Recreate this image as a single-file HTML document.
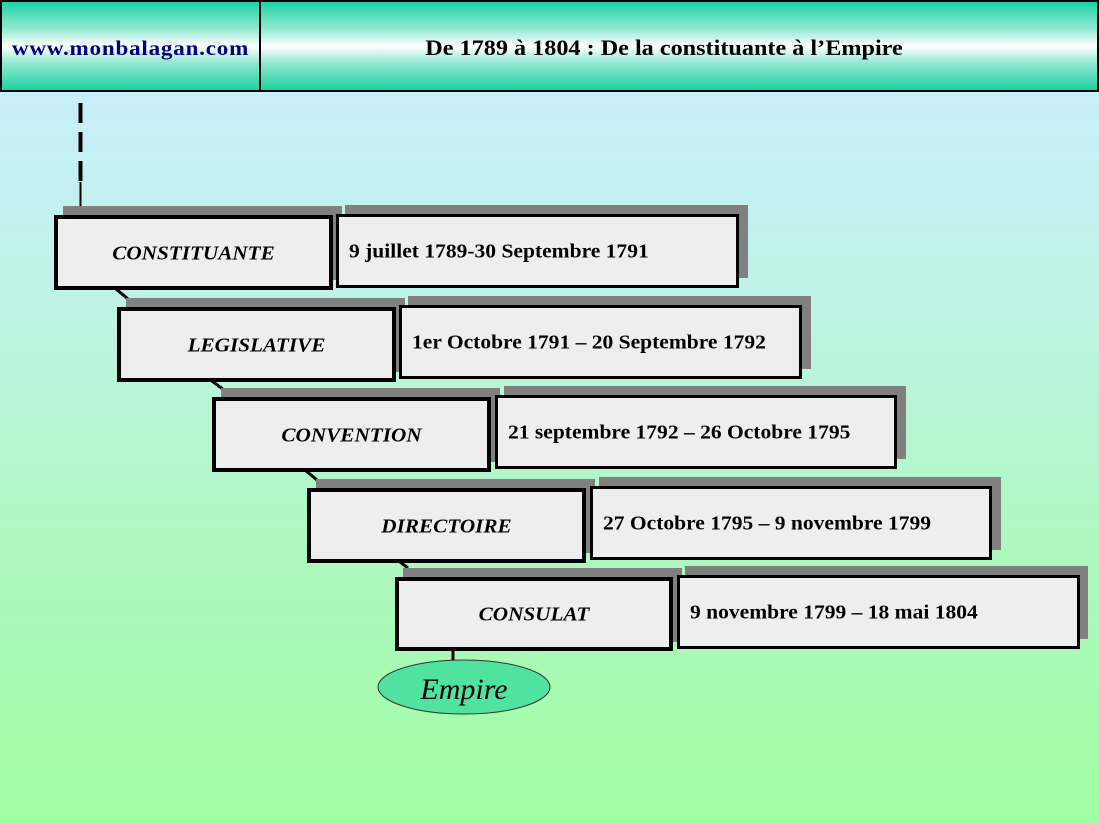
<!DOCTYPE html>
<html><head><meta charset="utf-8"><style>
*{margin:0;padding:0;box-sizing:border-box}
body{width:1099px;height:824px;overflow:hidden;position:relative;font-family:"Liberation Serif",serif;
background:linear-gradient(to bottom,#c8eefa 92px,#bff3e6 300px,#aef8c0 550px,#a0fea2 824px);}
.hd{position:absolute;top:0;height:92px;border:2px solid #000;
background:linear-gradient(to bottom,#1fd1a5 0%,#8ee8d0 30%,#ffffff 50%,#8ee8d0 70%,#1fd1a5 100%);}
.hd span{position:absolute;top:4px;bottom:0;display:flex;align-items:center;justify-content:center;font-weight:bold;}
.b{position:absolute;background:#eeeeee;border:4px solid #000;}
.s{position:absolute;background:#808080;}
.b i{position:absolute;left:0;right:0;top:50%;transform:translateY(-45%) scaleX(1.06);text-align:center;font-weight:bold;font-size:20px;}
.r{border-width:3px}
.r b{position:absolute;left:10px;top:50%;transform:translateY(-45%) scaleX(1.05);transform-origin:0 50%;font-size:20.5px;white-space:nowrap}
</style></head><body>
<div class="hd" style="left:0;width:261px"><span style="left:0;right:0;color:#000080;font-size:21px;letter-spacing:0.7px;transform:scaleX(1.1)">www.monbalagan.com</span></div>
<div class="hd" style="left:259px;width:840px"><span style="left:0;right:30px;color:#000;font-size:22px;transform:scaleX(1.1)">De 1789 à 1804 : De la constituante à l’Empire</span></div>
<svg style="position:absolute;left:0;top:0" width="1099" height="824">
<line x1="80.5" y1="103" x2="80.5" y2="182" stroke="#000" stroke-width="4" stroke-dasharray="20,9"/>
<line x1="80.5" y1="182" x2="80.5" y2="207" stroke="#000" stroke-width="2"/>
<line x1="116" y1="289" x2="128" y2="299" stroke="#000" stroke-width="3"/>
<line x1="212" y1="381" x2="224" y2="390" stroke="#000" stroke-width="3"/>
<line x1="305" y1="470" x2="317" y2="480" stroke="#000" stroke-width="3"/>
<line x1="400" y1="562" x2="408" y2="568" stroke="#000" stroke-width="3"/>
<line x1="453" y1="650" x2="453" y2="662" stroke="#000" stroke-width="3"/>
<ellipse cx="464" cy="687" rx="86" ry="27" fill="#50e3a0" stroke="#333" stroke-width="1"/>
<text x="464" y="699" text-anchor="middle" font-family="Liberation Serif" font-style="italic" font-size="30">Empire</text>
</svg>
<div class="s" style="left:63px;top:206px;width:279px;height:74px"></div>
<div class="b" style="left:54px;top:215px;width:279px;height:75px"><i>CONSTITUANTE</i></div>
<div class="s" style="left:345px;top:205px;width:403px;height:73px"></div>
<div class="b r" style="left:336px;top:214px;width:403px;height:74px"><b>9 juillet 1789-30 Septembre 1791</b></div>

<div class="s" style="left:126px;top:298px;width:279px;height:74px"></div>
<div class="b" style="left:117px;top:307px;width:279px;height:75px"><i>LEGISLATIVE</i></div>
<div class="s" style="left:408px;top:296px;width:403px;height:73px"></div>
<div class="b r" style="left:399px;top:305px;width:403px;height:74px"><b>1er Octobre 1791 – 20 Septembre 1792</b></div>

<div class="s" style="left:221px;top:388px;width:279px;height:74px"></div>
<div class="b" style="left:212px;top:397px;width:279px;height:75px"><i>CONVENTION</i></div>
<div class="s" style="left:504px;top:386px;width:402px;height:73px"></div>
<div class="b r" style="left:495px;top:395px;width:402px;height:74px"><b>21 septembre 1792 – 26 Octobre 1795</b></div>

<div class="s" style="left:316px;top:479px;width:279px;height:74px"></div>
<div class="b" style="left:307px;top:488px;width:279px;height:75px"><i>DIRECTOIRE</i></div>
<div class="s" style="left:599px;top:477px;width:402px;height:73px"></div>
<div class="b r" style="left:590px;top:486px;width:402px;height:74px"><b>27 Octobre 1795 – 9 novembre 1799</b></div>

<div class="s" style="left:403px;top:568px;width:279px;height:74px"></div>
<div class="b" style="left:395px;top:577px;width:278px;height:74px"><i>CONSULAT</i></div>
<div class="s" style="left:685px;top:566px;width:403px;height:73px"></div>
<div class="b r" style="left:677px;top:575px;width:403px;height:74px"><b>9 novembre 1799 – 18 mai 1804</b></div>
</body></html>
